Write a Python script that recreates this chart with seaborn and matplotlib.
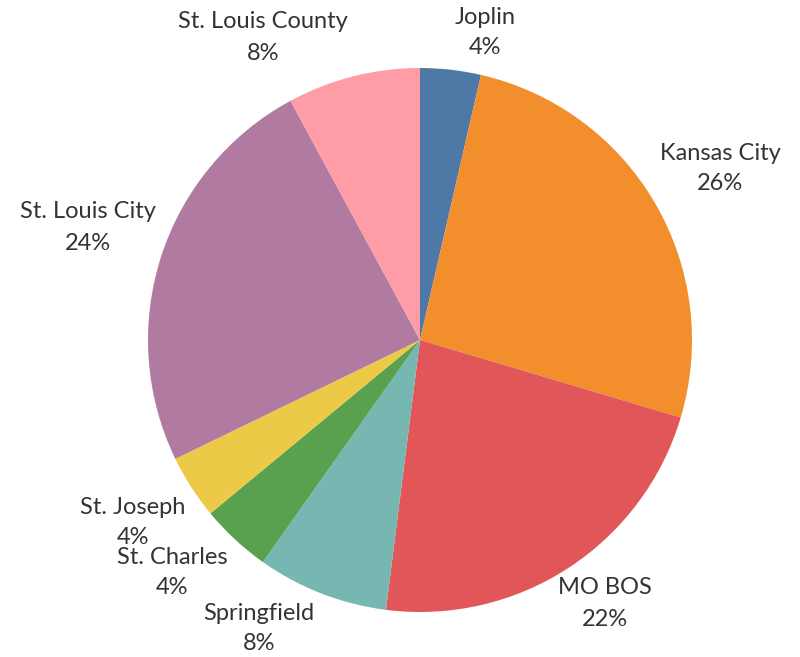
import matplotlib.pyplot as plt
import seaborn as sns

# slice data, clockwise from 12 o'clock
regions = ["Joplin", "Kansas City", "MO BOS", "Springfield",
           "St. Charles", "St. Joseph", "St. Louis City", "St. Louis County"]
shares = [3.6, 26.0, 22.4, 7.8, 4.2, 3.8, 24.3, 7.9]
pct_labels = ["4%", "26%", "22%", "8%", "4%", "4%", "24%", "8%"]
colors = ["#4e79a7", "#f28e2b", "#e15759", "#76b7b2",
          "#59a14f", "#edc948", "#b07aa1", "#ff9da7"]

# label centres in pixel coords (x, y from top)
label_pos = [(485, 17), (720, 153), (605, 588), (259, 613),
             (172, 557), (133, 507), (88, 212), (263, 22)]

sns.set_theme(style="white")
plt.rcParams["font.family"] = ["Lato", "DejaVu Sans"]

W, H = 800, 657
fig = plt.figure(figsize=(W / 100, H / 100), dpi=100)
ax = fig.add_axes([0, 0, 1, 1])

ax.pie(shares, colors=colors, startangle=90, counterclock=False,
       center=(420, H - 340), radius=272, frame=True,
       wedgeprops=dict(linewidth=0))

ax.set_xlim(0, W)
ax.set_ylim(0, H)
ax.set_aspect("equal")
ax.axis("off")

for name, pct, (px, py) in zip(regions, pct_labels, label_pos):
    ax.text(px, H - py, name, ha="center", va="center", fontsize=17, color="#333333")
    ax.text(px, H - py - 31, pct, ha="center", va="center", fontsize=17, color="#333333")

fig.savefig("out.png", dpi=100)
